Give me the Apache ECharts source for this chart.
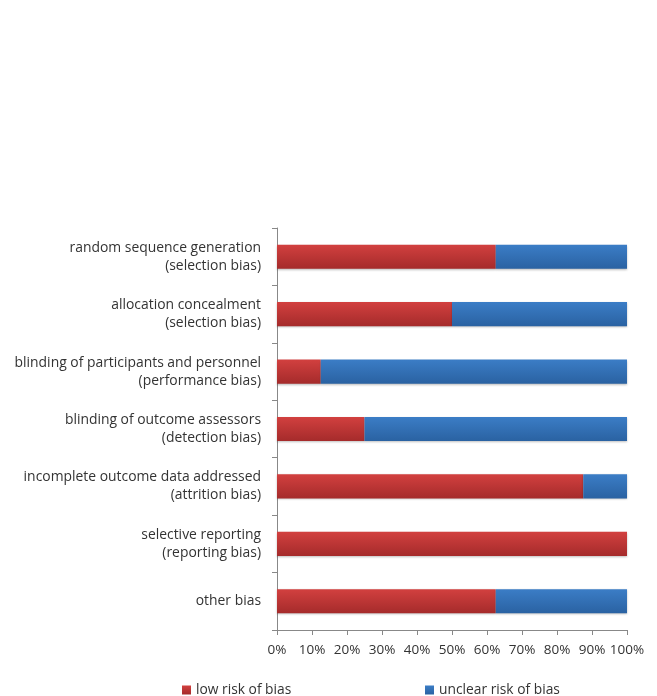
<!DOCTYPE html>
<html><head><meta charset="utf-8">
<script src="https://cdn.jsdelivr.net/npm/echarts@6/dist/echarts.min.js"></script>
<style>html,body{margin:0;padding:0;background:#fff}#c{width:657px;height:696px}</style>
</head><body><div id="c"></div>
<script>
const categories = [
  "random sequence generation\n(selection bias)",
  "allocation concealment\n(selection bias)",
  "blinding of participants and personnel\n(performance bias)",
  "blinding of outcome assessors\n(detection bias)",
  "incomplete outcome data addressed\n(attrition bias)",
  "selective reporting\n(reporting bias)",
  "other bias"
];
const lowRisk = [62.5, 50, 12.5, 25, 87.5, 100, 62.5];
const unclearRisk = [37.5, 50, 87.5, 75, 12.5, 0, 37.5];
const xTicks = [0,10,20,30,40,50,60,70,80,90,100];

const font = "'Open Sans', 'Liberation Sans', sans-serif";
const red = new echarts.graphic.LinearGradient(0,0,0,1,[{offset:0,color:'#d2403f'},{offset:1,color:'#a52b2b'}]);
const blue = new echarts.graphic.LinearGradient(0,0,0,1,[{offset:0,color:'#3b7dc6'},{offset:1,color:'#2a62a2'}]);
const chart = echarts.init(document.getElementById('c'));
chart.setOption({
  animation:false,
  grid:{left:277,right:30,top:228,bottom:66,containLabel:false},
  legend:[
    {data:['low risk of bias'],left:177,top:678,itemWidth:9,itemHeight:9,icon:'rect',itemGap:8,
     textStyle:{fontFamily:font,fontSize:13.8,color:'#333'}},
    {data:['unclear risk of bias'],left:420,top:678,itemWidth:9,itemHeight:9,icon:'rect',
     textStyle:{fontFamily:font,fontSize:13.8,color:'#333'}}
  ],
  xAxis:{type:'value',min:0,max:100,interval:10,
    axisLine:{show:true,lineStyle:{color:'#888'}},
    axisTick:{show:true,length:5,lineStyle:{color:'#888'}},
    splitLine:{show:false},
    axisLabel:{fontFamily:font,fontSize:13.5,color:'#333',margin:13,
      formatter:v=>xTicks.includes(v)?v+'%':''}},
  yAxis:{type:'category',data:categories,inverse:true,
    axisLine:{show:true,lineStyle:{color:'#888'}},
    axisTick:{show:true,length:5,alignWithLabel:false,lineStyle:{color:'#888'}},
    axisLabel:{fontFamily:font,fontSize:13.9,color:'#333',margin:16,lineHeight:18,align:'right'}},
  series:[
    {name:'low risk of bias',type:'bar',stack:'a',data:lowRisk,barCategoryGap:'58%',
     itemStyle:{color:red,shadowColor:'rgba(0,0,0,0.25)',shadowBlur:2,shadowOffsetY:1},
     color:'#c0392b'},
    {name:'unclear risk of bias',type:'bar',stack:'a',data:unclearRisk,
     itemStyle:{color:blue,shadowColor:'rgba(0,0,0,0.25)',shadowBlur:2,shadowOffsetY:1},
     color:'#2f6fb6'}
  ]
});
</script></body></html>
